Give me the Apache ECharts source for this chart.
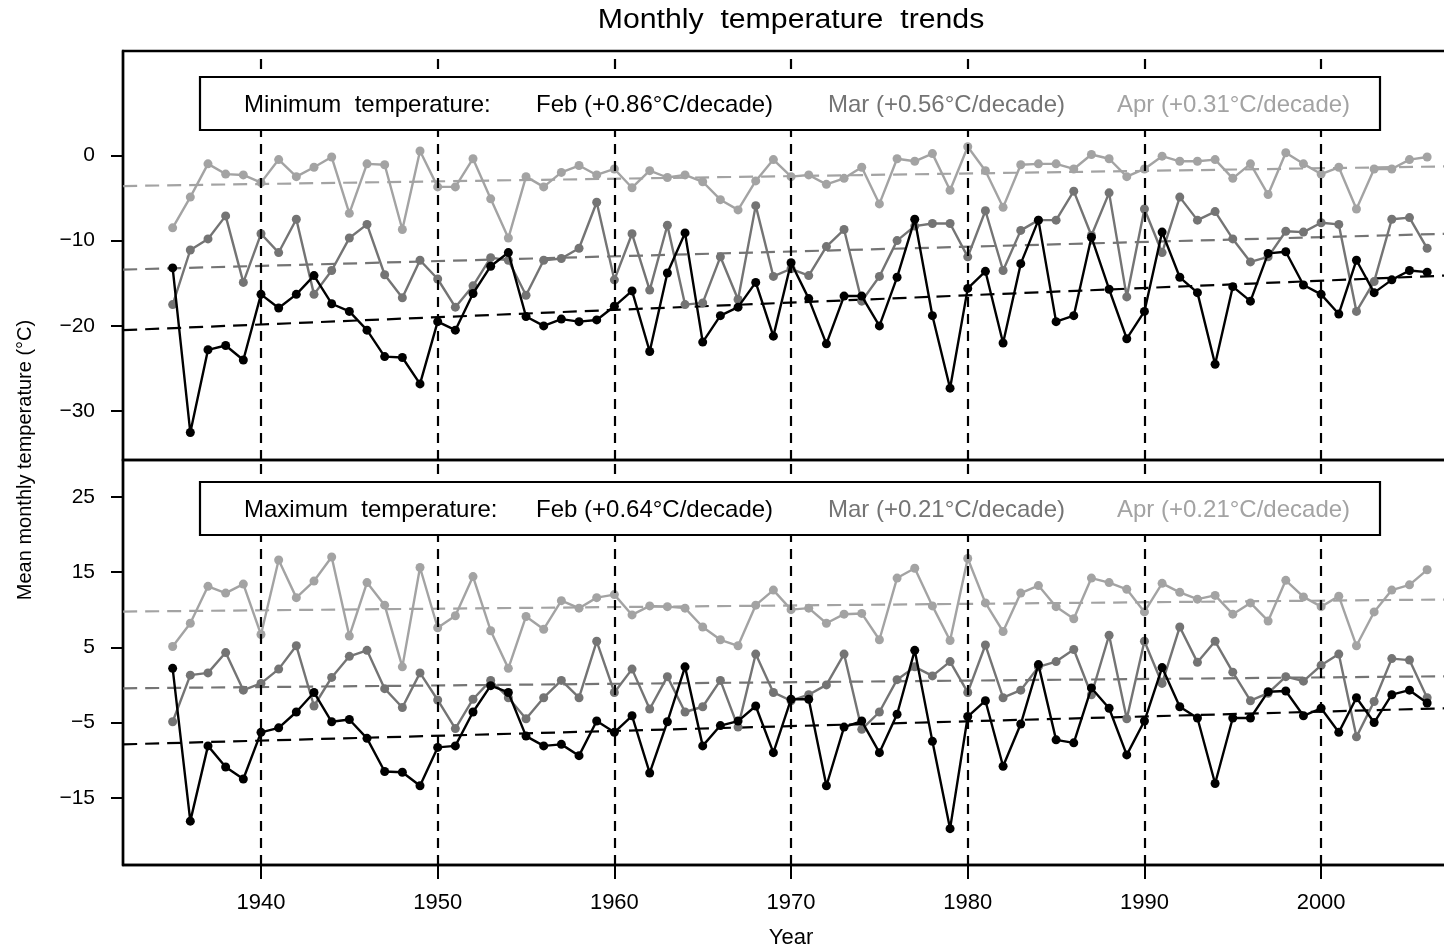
<!DOCTYPE html>
<html lang="en">
<head>
<meta charset="UTF-8">
<title>Monthly temperature trends</title>
<script src="https://cdn.jsdelivr.net/npm/echarts@6.0.0/dist/echarts.min.js"></script>
<style>
  html, body { margin: 0; padding: 0; background: #fff; overflow: hidden; }
  /* a bit wider than the window so the right frame edge falls off-screen, like the original */
  #chart { width: 1460px; height: 950px; }
</style>
</head>
<body>
<div id="chart"></div>
<script>
// years on the x axis
const years = [
  1935, 1936, 1937, 1938, 1939, 1940, 1941, 1942, 1943, 1944, 1945, 1946, 1947, 1948, 1949,
  1950, 1951, 1952, 1953, 1954, 1955, 1956, 1957, 1958, 1959, 1960, 1961, 1962, 1963, 1964,
  1965, 1966, 1967, 1968, 1969, 1970, 1971, 1972, 1973, 1974, 1975, 1976, 1977, 1978, 1979,
  1980, 1981, 1982, 1983, 1984, 1985, 1986, 1987, 1988, 1989, 1990, 1991, 1992, 1993, 1994,
  1995, 1996, 1997, 1998, 1999, 2000, 2001, 2002, 2003, 2004, 2005, 2006
];
const decadeTicks = [1940, 1950, 1960, 1970, 1980, 1990, 2000];
const minTicks = [0, -10, -20, -30];
const maxTicks = [25, 15, 5, -5, -15];

// minimum temperature (top panel)
const minFeb = [
  -13.2, -32.5, -22.8, -22.3, -24.0, -16.3, -17.9, -16.3, -14.1, -17.4, -18.3, -20.5, -23.6, -23.7, -26.8,
  -19.5, -20.5, -16.2, -13.0, -11.4, -18.9, -20.0, -19.2, -19.5, -19.3, -17.7, -15.9, -23.0, -13.8, -9.1,
  -21.9, -18.8, -17.8, -14.9, -21.2, -12.6, -16.8, -22.1, -16.5, -16.5, -20.0, -14.3, -7.5, -18.8, -27.3,
  -15.6, -13.6, -22.0, -12.7, -7.6, -19.5, -18.8, -9.6, -15.7, -21.5, -18.3, -9.0, -14.3, -16.1, -24.5,
  -15.4, -17.1, -11.5, -11.3, -15.2, -16.3, -18.6, -12.3, -16.1, -14.6, -13.5, -13.7
];
const minMar = [
  -17.5, -11.1, -9.8, -7.1, -14.9, -9.2, -11.4, -7.5, -16.3, -13.5, -9.7, -8.1, -14.0, -16.7, -12.3,
  -14.5, -17.8, -15.3, -12.0, -12.3, -16.4, -12.3, -12.1, -10.9, -5.5, -14.6, -9.2, -15.8, -8.2, -17.5,
  -17.3, -11.9, -16.9, -5.9, -14.2, -13.3, -14.1, -10.7, -8.7, -17.1, -14.2, -10.0, -8.3, -8.0, -8.0,
  -11.9, -6.5, -13.5, -8.8, -7.6, -7.6, -4.2, -9.4, -4.4, -16.6, -6.3, -11.4, -4.9, -7.6, -6.6,
  -9.8, -12.5, -11.9, -8.9, -9.0, -7.9, -8.1, -18.3, -14.8, -7.5, -7.3, -10.9
];
const minApr = [
  -8.5, -4.9, -1.0, -2.2, -2.3, -3.2, -0.5, -2.5, -1.4, -0.2, -6.8, -1.0, -1.1, -8.7, 0.5,
  -3.7, -3.7, -0.4, -5.1, -9.7, -2.5, -3.7, -2.0, -1.2, -2.3, -1.6, -3.8, -1.8, -2.6, -2.3,
  -3.1, -5.2, -6.4, -3.0, -0.5, -2.5, -2.3, -3.4, -2.7, -1.4, -5.7, -0.4, -0.7, 0.2, -4.1,
  1.0, -1.8, -6.1, -1.1, -1.0, -1.0, -1.6, 0.1, -0.4, -2.5, -1.6, -0.1, -0.7, -0.7, -0.5,
  -2.7, -1.0, -4.6, 0.3, -1.0, -2.2, -1.4, -6.3, -1.6, -1.6, -0.5, -0.2
];

// maximum temperature (bottom panel)
const maxFeb = [
  2.2, -18.1, -8.1, -10.9, -12.5, -6.3, -5.7, -3.6, -1.0, -4.9, -4.6, -7.1, -11.5, -11.6, -13.4,
  -8.3, -8.1, -3.6, -0.1, -1.0, -6.8, -8.1, -7.9, -9.4, -4.8, -6.3, -4.1, -11.7, -4.9, 2.4,
  -8.1, -5.4, -4.8, -2.8, -9.0, -1.9, -1.9, -13.4, -5.6, -4.8, -9.0, -3.9, 4.6, -7.5, -19.1,
  -4.2, -2.1, -10.8, -5.2, 2.7, -7.3, -7.7, -0.4, -3.1, -9.3, -4.8, 2.3, -2.9, -4.4, -13.1,
  -4.4, -4.4, -0.9, -0.8, -4.1, -3.1, -6.3, -1.7, -5.0, -1.3, -0.7, -2.4
];
const maxMar = [
  -4.9, 1.3, 1.6, 4.3, -0.7, 0.2, 2.1, 5.2, -2.8, 1.0, 3.8, 4.6, -0.5, -3.0, 1.6,
  -2.0, -5.8, -1.9, 0.6, -1.7, -4.5, -1.7, 0.6, -1.7, 5.8, -1.0, 2.1, -3.2, 1.1, -3.6,
  -2.9, 0.6, -5.6, 4.1, -1.0, -2.1, -1.3, 0.0, 4.1, -5.9, -3.6, 0.7, 2.4, 1.2, 3.1,
  -1.0, 5.3, -1.7, -0.7, 2.4, 3.1, 4.7, -1.3, 6.6, -4.5, 5.8, 0.2, 7.7, 3.0, 5.8,
  1.7, -2.1, -1.1, 1.1, 0.5, 2.6, 4.1, -6.9, -2.2, 3.5, 3.3, -1.7
];
const maxApr = [
  5.1, 8.2, 13.1, 12.2, 13.4, 6.7, 16.6, 11.6, 13.8, 17.0, 6.5, 13.6, 10.6, 2.4, 15.6,
  7.6, 9.2, 14.4, 7.2, 2.2, 9.1, 7.4, 11.2, 10.2, 11.6, 12.0, 9.3, 10.5, 10.4, 10.2,
  7.7, 6.0, 5.2, 10.6, 12.6, 10.0, 10.2, 8.2, 9.4, 9.5, 6.0, 14.2, 15.5, 10.5, 5.9,
  16.8, 10.9, 7.1, 12.2, 13.2, 10.4, 8.8, 14.2, 13.6, 12.7, 9.7, 13.5, 12.3, 11.4, 11.9,
  9.4, 10.9, 8.5, 13.9, 11.7, 10.4, 11.8, 5.2, 9.7, 12.6, 13.3, 15.3
];

// trend lines, values read at the left and right edge of the plot
const trendYears = [1932.2, 2007.0];
const minTrendFeb = [-20.5, -14.1];
const minTrendMar = [-13.4, -9.2];
const minTrendApr = [-3.6, -1.3];
const maxTrendFeb = [-7.9, -3.1];
const maxTrendMar = [-0.45, 1.15];
const maxTrendApr = [9.75, 11.35];

const minLegend = ['Minimum  temperature:', 'Feb (+0.86°C/decade)', 'Mar (+0.56°C/decade)', 'Apr (+0.31°C/decade)'];
const maxLegend = ['Maximum  temperature:', 'Feb (+0.64°C/decade)', 'Mar (+0.21°C/decade)', 'Apr (+0.21°C/decade)'];

const FONT = '"Liberation Sans", Arial, Helvetica, sans-serif';
const C_FEB = '#000000';
const C_MAR = '#747474';
const C_APR = '#a3a3a3';

const chart = echarts.init(document.getElementById('chart'));

function pairs(vals) {
  return years.map((y, i) => [y, vals[i]]);
}

function dataSeries(name, vals, color, gi, z) {
  return {
    name: name,
    type: 'line',
    xAxisIndex: gi,
    yAxisIndex: gi,
    data: pairs(vals),
    symbol: 'circle',
    symbolSize: 9,
    lineStyle: { color: color, width: 2.4 },
    itemStyle: { color: color },
    z: z
  };
}

function trendSeries(vals, color, gi) {
  return {
    type: 'line',
    xAxisIndex: gi,
    yAxisIndex: gi,
    data: trendYears.map((y, i) => [y, vals[i]]),
    symbol: 'none',
    lineStyle: { color: color, width: 2.2, type: [14, 8] },
    z: 2
  };
}

// vertical dashed decade lines
function decadeLines(gi) {
  return {
    type: 'line',
    xAxisIndex: gi,
    yAxisIndex: gi,
    data: [],
    markLine: {
      silent: true,
      symbol: ['none', 'none'],
      label: { show: false },
      lineStyle: { color: '#000', width: 2.2, type: [10, 7] },
      data: decadeTicks.map(d => ({ xAxis: d }))
    },
    z: 1
  };
}

function yAxisFor(gi, min, max, ticks) {
  return {
    type: 'value',
    gridIndex: gi,
    min: min,
    max: max,
    axisLine: { show: true, onZero: false, lineStyle: { color: '#000', width: 2.4 } },
    axisTick: { show: true, length: 12, customValues: ticks, lineStyle: { color: '#000', width: 2 } },
    axisLabel: {
      customValues: ticks,
      margin: 28,
      color: '#000',
      fontSize: 21,
      fontFamily: FONT,
      formatter: v => String(v).replace('-', '\u2212')
    },
    splitLine: { show: false }
  };
}

function legendBox(y, texts) {
  const xs = [244, 536, 828, 1117];
  const colors = [C_FEB, C_FEB, C_MAR, C_APR];
  const items = [{
    type: 'rect',
    shape: { x: 200, y: y, width: 1180, height: 53 },
    style: { fill: '#fff', stroke: '#000', lineWidth: 2.2 },
    z: 100
  }];
  texts.forEach((t, i) => {
    items.push({
      type: 'text',
      x: xs[i],
      y: y + 28,
      style: {
        text: t,
        fill: colors[i],
        fontSize: 24,
        fontFamily: FONT,
        textAlign: 'left',
        textVerticalAlign: 'middle'
      },
      z: 101
    });
  });
  return items;
}

const option = {
  animation: false,
  backgroundColor: '#fff',
  grid: [
    { left: 123, top: 51, right: 0, height: 409, show: true, borderColor: '#000', borderWidth: 2.4, backgroundColor: 'transparent' },
    { left: 123, top: 460, right: 0, height: 405, show: true, borderColor: '#000', borderWidth: 2.4, backgroundColor: 'transparent' }
  ],
  xAxis: [
    {
      type: 'value', gridIndex: 0, min: 1932.19, max: 2007.86,
      axisLine: { show: false }, axisTick: { show: false }, axisLabel: { show: false }, splitLine: { show: false }
    },
    {
      type: 'value', gridIndex: 1, min: 1932.19, max: 2007.86,
      axisLine: { show: true, onZero: false, lineStyle: { color: '#000', width: 2.4 } },
      axisTick: { show: true, length: 14, customValues: decadeTicks, lineStyle: { color: '#000', width: 2 } },
      axisLabel: {
        customValues: decadeTicks, margin: 27, color: '#000', fontSize: 22, fontFamily: FONT,
        formatter: v => String(v)
      },
      splitLine: { show: false }
    }
  ],
  yAxis: [
    yAxisFor(0, -35.72, 12.23, minTicks),
    yAxisFor(1, -23.93, 29.89, maxTicks)
  ],
  series: [
    decadeLines(0),
    decadeLines(1),
    trendSeries(minTrendApr, C_APR, 0),
    trendSeries(minTrendMar, C_MAR, 0),
    trendSeries(minTrendFeb, C_FEB, 0),
    trendSeries(maxTrendApr, C_APR, 1),
    trendSeries(maxTrendMar, C_MAR, 1),
    trendSeries(maxTrendFeb, C_FEB, 1),
    dataSeries('Apr min', minApr, C_APR, 0, 3),
    dataSeries('Mar min', minMar, C_MAR, 0, 4),
    dataSeries('Feb min', minFeb, C_FEB, 0, 5),
    dataSeries('Apr max', maxApr, C_APR, 1, 3),
    dataSeries('Mar max', maxMar, C_MAR, 1, 4),
    dataSeries('Feb max', maxFeb, C_FEB, 1, 5)
  ],
  graphic: [
    {
      type: 'text', x: 791, y: 21, scaleX: 1.12,
      style: { text: 'Monthly  temperature  trends', fill: '#000', fontSize: 27, fontFamily: FONT, textAlign: 'center', textVerticalAlign: 'middle' }
    },
    {
      type: 'text', x: 791, y: 938,
      style: { text: 'Year', fill: '#000', fontSize: 22, fontFamily: FONT, textAlign: 'center', textVerticalAlign: 'middle' }
    },
    {
      type: 'text', x: 25, y: 460, rotation: Math.PI / 2,
      style: { text: 'Mean monthly temperature (°C)', fill: '#000', fontSize: 20, fontFamily: FONT, textAlign: 'center', textVerticalAlign: 'middle' }
    }
  ].concat(legendBox(77, minLegend), legendBox(482, maxLegend))
};

chart.setOption(option);
window.addEventListener('resize', () => chart.resize());
</script>
</body>
</html>
